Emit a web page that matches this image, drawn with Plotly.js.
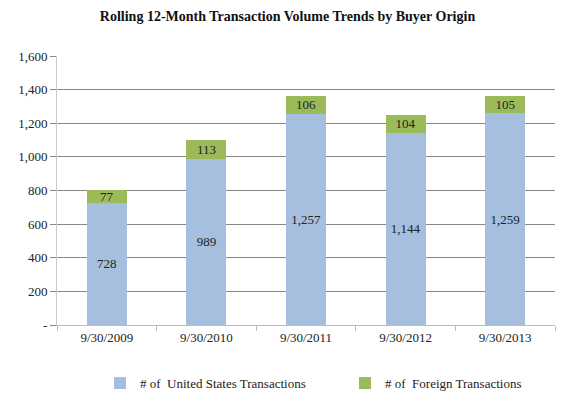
<!DOCTYPE html>
<html><head><meta charset="utf-8">
<script src="https://cdn.plot.ly/plotly-3.0.1.min.js"></script>
<style>html,body{margin:0;padding:0;background:#fff}#chart{width:575px;height:397px}</style>
</head><body><div id="chart"></div>
<script>
const categories = ["9/30/2009","9/30/2010","9/30/2011","9/30/2012","9/30/2013"];
const usTransactions = [728, 989, 1257, 1144, 1259];
const foreignTransactions = [77, 113, 106, 104, 105];
const yTickVals = [0,200,400,600,800,1000,1200,1400,1600];
const yTickText = ["-","200","400","600","800","1,000","1,200","1,400","1,600"];

const fmt = v => v.toLocaleString('en-US');
const font = "Liberation Serif, serif";
const traces = [
 {type:'bar', name:'# of  United States Transactions', x:categories, y:usTransactions,
  marker:{color:'#A7BFDE'}, text:usTransactions.map(fmt), textposition:'inside', insidetextanchor:'middle', constraintext:'none', textangle:0,
  textfont:{family:font,size:13,color:'#222'}, hoverinfo:'none'},
 {type:'bar', name:'# of  Foreign Transactions', x:categories, y:foreignTransactions,
  marker:{color:'#9BBB59'}, text:foreignTransactions.map(fmt), textposition:'inside', insidetextanchor:'middle', constraintext:'none', textangle:0,
  textfont:{family:font,size:13,color:'#222'}, hoverinfo:'none'}
];
const layout = {
 width:575, height:397, barmode:'stack', bargap:0.6,
 paper_bgcolor:'#fff', plot_bgcolor:'#fff',
 margin:{l:57,r:20,t:56,b:72, autoexpand:false},
 font:{family:font,size:13,color:'#222'},
 title:{text:'<b>Rolling 12-Month Transaction Volume Trends by Buyer Origin</b>', x:0.5, xanchor:'center', y:0.96, yanchor:'middle', font:{family:font,size:14,color:'#111'}},
 xaxis:{showline:true, linecolor:'#bbb', ticks:'outside', tickson:'boundaries', ticklen:5, tickcolor:'#bbb', tickfont:{family:font,size:13,color:'#222'}, showgrid:false, automargin:false},
 yaxis:{range:[0,1600], tickvals:yTickVals, ticktext:yTickText, showgrid:true, gridcolor:'#888', gridwidth:1,
  showline:true, linecolor:'#ccc', ticks:'outside', ticklen:6, tickcolor:'#888', tickfont:{family:font,size:13,color:'#222'}, zeroline:false, automargin:false},
 showlegend:true,
 legend:{orientation:'h', xref:'container', yref:'container', x:0.6, xanchor:'center', y:0.035, yanchor:'middle', font:{family:font,size:13,color:'#222'}, traceorder:'normal', itemwidth:30, entrywidth:200}
};
Plotly.newPlot('chart', traces, layout, {staticPlot:true});
</script></body></html>
